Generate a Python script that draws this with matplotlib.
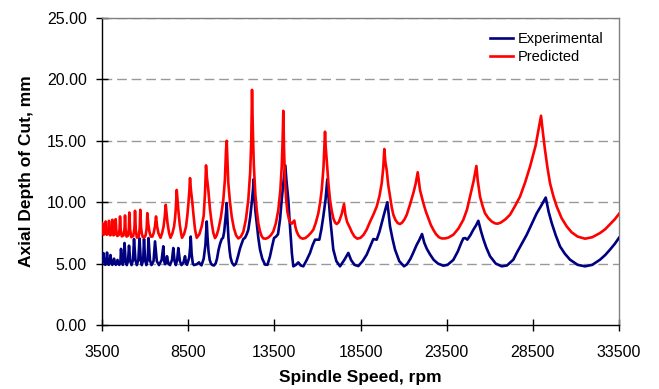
import matplotlib
matplotlib.use("Agg")
import matplotlib.pyplot as plt
from matplotlib.ticker import FormatStrFormatter

plt.rcParams['font.family'] = ['Liberation Sans', 'DejaVu Sans']

# ---- Data ----
pred_rpm = [3500, 3517, 3547, 3586, 3655, 3695, 3715, 3744, 3782, 3849, 3887, 3906,
            3935, 3973, 4040, 4079, 4098, 4128, 4167, 4236, 4275, 4295, 4332, 4383,
            4470, 4520, 4545, 4588, 4647, 4748, 4806, 4835, 4872, 4922, 5010, 5060,
            5084, 5134, 5200, 5316, 5382, 5415, 5461, 5522, 5630, 5691, 5722, 5763,
            5810, 5870, 5950, 6030, 6090, 6129, 6180, 6250, 6330, 6420, 6500, 6570,
            6634, 6700, 6780, 6895, 6990, 7069, 7140, 7196, 7250, 7301, 7390, 7475,
            7580, 7678, 7740, 7782, 7835, 7890, 7939, 8010, 8084, 8142, 8260, 8374,
            8450, 8519, 8570, 8607, 8660, 8740, 8820, 8897, 8995, 9150, 9285, 9400,
            9477, 9535, 9590, 9669, 9760, 9866, 9960, 10057, 10150, 10249, 10400,
            10539, 10630, 10696, 10736, 10790, 10829, 10920, 11026, 11150, 11280, 11409,
            11560, 11700, 11850, 11990, 12100, 12160, 12205, 12250, 12310, 12400, 12477,
            12570, 12669, 12760, 12860, 13000, 13150, 13300, 13441, 13590, 13731, 13850,
            13928, 13980, 14021, 14060, 14110, 14180, 14260, 14350, 14430, 14508, 14600,
            14660, 14720, 14800, 14900, 15020, 15147, 15300, 15450, 15620, 15762, 15900,
            16052, 16160, 16249, 16350, 16441, 16480, 16539, 16640, 16731, 16830, 16922,
            17020, 17119, 17250, 17400, 17543, 17620, 17720, 17891, 18000, 18150, 18315,
            18500, 18680, 18855, 19050, 19250, 19441, 19600, 19731, 19820, 19882, 19940,
            20021, 20110, 20213, 20310, 20405, 20530, 20660, 20793, 20920, 21050, 21182,
            21370, 21565, 21700, 21820, 21954, 22145, 22290, 22435, 22580, 22725, 22880,
            23050, 23213, 23400, 23600, 23886, 24180, 24466, 24680, 24855, 25060, 25224,
            25300, 25435, 25580, 25725, 25920, 26114, 26300, 26462, 26650, 26900, 27176,
            27470, 27757, 28050, 28337, 28660, 28976, 29090, 29207, 29350, 29497, 29690,
            29886, 30170, 30466, 30750, 31100, 31528, 31950, 32399, 32700, 32979, 33250,
            33500]
pred_depth = [7.9, 8.3, 7.65, 7.35, 7.42, 7.8, 8.43, 7.7, 7.35, 7.42, 7.8, 8.49,
              7.65, 7.3, 7.38, 7.8, 8.57, 7.7, 7.3, 7.38, 7.85, 8.62, 7.65, 7.25,
              7.33, 7.85, 8.84, 7.7, 7.22, 7.3, 7.85, 8.92, 7.7, 7.2, 7.28, 7.9,
              9.16, 7.75, 7.15, 7.25, 7.9, 9.3, 7.75, 7.12, 7.22, 7.95, 9.38, 8.0,
              7.45, 7.15, 7.12, 7.3, 7.85, 9.11, 8.3, 7.6, 7.2, 7.2, 7.5, 8.0,
              8.84, 8.0, 7.45, 7.1, 7.5, 8.0, 8.8, 9.79, 9.0, 8.3, 7.5, 7.1,
              7.45, 8.0, 8.7, 9.5, 11.0, 10.0, 9.2, 8.2, 7.5, 7.1, 7.4, 8.0,
              8.9, 10.0, 11.0, 11.96, 11.0, 10.0, 8.8, 7.8, 7.1, 7.4, 8.03, 8.9,
              10.74, 13.0, 12.0, 11.0, 9.5, 8.3, 7.5, 7.08, 7.3, 7.76, 8.8,
              10.2, 11.8, 14.25, 15.0, 13.0, 11.55, 10.1, 8.84, 7.9, 7.3, 7.05,
              7.2, 7.6, 8.6, 10.2, 12.5, 15.0, 19.15, 16.0, 13.0, 10.6, 9.38,
              8.3, 7.62, 7.25, 7.05, 7.03, 7.12, 7.32, 7.62, 8.3, 9.38, 11.0,
              12.9, 15.0, 17.44, 14.5, 12.0, 10.3, 9.2, 8.6, 8.35, 8.25, 8.4,
              8.51, 8.0, 7.6, 7.3, 7.1, 7.03, 7.08, 7.25, 7.5, 7.76, 8.3,
              9.1, 10.0, 11.0, 12.8, 15.74, 14.5, 13.44, 11.5, 10.2, 9.3, 8.7,
              8.35, 8.22, 8.4, 9.0, 9.85, 9.0, 8.4, 7.9, 7.55, 7.2, 7.03,
              7.1, 7.35, 7.76, 8.4, 9.0, 9.65, 10.5, 11.55, 12.8, 14.33, 13.3,
              12.6, 11.4, 10.46, 9.6, 8.98, 8.55, 8.3, 8.22, 8.35, 8.6, 8.98,
              9.8, 10.74, 11.5, 12.44, 10.98, 9.93, 9.25, 8.7, 8.15, 7.76, 7.4,
              7.15, 7.05, 7.05, 7.12, 7.35, 7.85, 8.57, 9.4, 10.46, 11.7, 12.95,
              11.8, 10.46, 9.7, 9.1, 8.7, 8.43, 8.28, 8.25, 8.35, 8.6, 8.98,
              9.7, 10.46, 11.6, 12.9, 14.6, 17.04, 15.6, 14.25, 12.8, 11.55, 10.5,
              9.65, 8.7, 8.03, 7.55, 7.2, 7.03, 7.15, 7.49, 7.8, 8.2, 8.6,
              9.05]

exp_rpm = [3500, 3587, 3630, 3691, 3750, 3790, 3840, 3895, 3950, 3993, 4040, 4098,
           4160, 4196, 4250, 4301, 4360, 4399, 4450, 4504, 4570, 4603, 4650, 4707,
           4770, 4806, 4870, 4939, 5010, 5067, 5140, 5212, 5300, 5357, 5440, 5519,
           5610, 5676, 5750, 5810, 5890, 5937, 6000, 6071, 6150, 6198, 6280, 6372,
           6490, 6576, 6680, 6808, 6960, 7057, 7110, 7156, 7220, 7272, 7350, 7446,
           7560, 7637, 7710, 7782, 7860, 7928, 8020, 8113, 8230, 8317, 8380, 8433,
           8560, 8620, 8647, 8700, 8770, 8839, 9000, 9129, 9200, 9274, 9400, 9500,
           9576, 9620, 9680, 9750, 9825, 9910, 9999, 10090, 10173, 10260, 10348,
           10446, 10522, 10590, 10638, 10700, 10736, 10770, 10841, 10900, 10957, 11050,
           11160, 11270, 11392, 11500, 11595, 11700, 11798, 11900, 11990, 12100, 12187,
           12260, 12303, 12340, 12400, 12477, 12570, 12669, 12800, 12959, 13100, 13249,
           13370, 13481, 13600, 13713, 13830, 13928, 14040, 14137, 14200, 14311, 14380,
           14450, 14520, 14601, 14750, 14891, 15030, 15181, 15380, 15570, 15720, 15860,
           16000, 16110, 16230, 16342, 16470, 16574, 16650, 16731, 16830, 16922, 17100,
           17311, 17560, 17793, 17950, 18150, 18373, 18620, 18860, 19060, 19243, 19441,
           19600, 19731, 19900, 20056, 20213, 20360, 20503, 20750, 21025, 21200, 21400,
           21565, 21750, 21920, 22070, 22200, 22350, 22534, 22750, 23000, 23306, 23550,
           23886, 24150, 24350, 24466, 24580, 24698, 24870, 25047, 25200, 25337, 25480,
           25627, 25800, 26016, 26350, 26694, 27000, 27367, 27565, 27850, 28145, 28430,
           28726, 29000, 29248, 29420, 29596, 29830, 30078, 30360, 30658, 31100, 31528,
           31950, 32399, 32700, 32979, 33250, 33500]
exp_depth = [5.2, 5.85, 5.1, 4.9, 5.1, 5.9, 5.1, 4.9, 5.1, 5.7, 5.05, 4.9,
             5.05, 5.4, 5.0, 4.9, 5.05, 5.3, 5.0, 4.9, 5.2, 6.2, 5.2, 4.9,
             5.3, 6.68, 5.2, 4.88, 5.2, 6.46, 5.2, 4.88, 5.3, 7.0, 5.3, 4.88,
             5.3, 7.05, 5.3, 4.88, 5.3, 7.0, 5.3, 4.88, 5.3, 7.08, 5.3, 4.88,
             5.2, 6.81, 5.2, 4.88, 5.3, 6.41, 5.2, 4.95, 5.1, 5.6, 5.0, 4.88,
             5.3, 6.27, 5.2, 4.88, 5.3, 6.27, 5.2, 4.88, 5.1, 5.6, 5.0, 4.9,
             5.5, 6.4, 7.2, 5.8, 5.0, 4.88, 4.95, 5.1, 4.95, 4.86, 5.4, 6.5,
             8.43, 7.2, 6.0, 5.3, 5.0, 4.88, 4.85, 5.0, 5.4, 6.1, 6.6,
             7.0, 7.1, 7.6, 8.3, 9.2, 9.93, 8.8, 7.0, 6.1, 5.5, 5.05,
             4.85, 5.0, 5.6, 6.2, 6.6, 7.0, 7.1, 7.4, 7.76, 8.8, 9.93,
             11.0, 11.88, 10.5, 9.3, 8.3, 7.1, 6.14, 5.4, 4.92, 4.9, 5.6,
             6.4, 7.08, 7.2, 7.4, 8.6, 10.2, 11.8, 13.0, 11.8, 10.2, 8.6,
             7.2, 5.8, 4.78, 4.9, 5.1, 4.85, 4.78, 5.3, 5.87, 6.5, 6.95,
             6.95, 6.95, 7.8, 8.84, 10.2, 11.87, 10.3, 8.84, 7.4, 6.14, 5.2,
             4.78, 5.3, 5.87, 5.3, 4.9, 4.8, 5.2, 5.73, 6.4, 7.0, 6.95,
             7.6, 8.3, 9.2, 10.0, 8.03, 7.0, 6.14, 5.2, 4.78, 4.95, 5.4,
             5.9, 6.5, 6.95, 7.41, 6.7, 6.2, 5.75, 5.3, 5.0, 4.83, 4.9,
             5.3, 6.0, 6.7, 7.05, 7.08, 6.95, 7.3, 7.76, 8.1, 8.49, 7.7,
             7.0, 6.3, 5.6, 5.0, 4.78, 4.85, 5.32, 5.87, 6.6, 7.35, 8.2,
             9.1, 9.75, 10.38, 9.2, 8.3, 7.3, 6.4, 5.8, 5.32, 4.9, 4.78,
             4.9, 5.32, 5.7, 6.14, 6.6, 7.1]

series_names = ["Experimental", "Predicted"]
x_ticks = [3500, 8500, 13500, 18500, 23500, 28500, 33500]
y_ticks = [0, 5, 10, 15, 20, 25]

# ---- Figure ----
fig = plt.figure(figsize=(6.59, 3.89), dpi=100)
ax = fig.add_axes([0.1548, 0.1645, 0.7845, 0.7892])

for y in y_ticks[1:]:
    ax.axhline(y, color='#999999', lw=1.0, linestyle=(0, (7, 3.5)), zorder=1)

ax.plot(exp_rpm, exp_depth, color='#000080', lw=1.9, label=series_names[0], zorder=3,
        solid_joinstyle='round')
ax.plot(pred_rpm, pred_depth, color='#FF0000', lw=1.9, label=series_names[1], zorder=3,
        solid_joinstyle='round')

ax.set_xlim(3500, 33500)
ax.set_ylim(0, 25)
ax.set_xticks(x_ticks)
ax.set_yticks(y_ticks)
ax.yaxis.set_major_formatter(FormatStrFormatter('%.2f'))
ax.tick_params(axis='both', direction='inout', length=9, width=1, labelsize=11.5,
               colors='black')
ax.tick_params(axis='x', pad=10)
ax.tick_params(axis='y', pad=6.5)

for s in ['left', 'bottom']:
    ax.spines[s].set_color('black')
    ax.spines[s].set_linewidth(1.0)
for s in ['top', 'right']:
    ax.spines[s].set_color('#808080')
    ax.spines[s].set_linewidth(1.0)

ax.set_xlabel('Spindle Speed, rpm', fontsize=12.5, fontweight='bold', labelpad=7)
ax.set_ylabel('Axial Depth of Cut, mm', fontsize=12.5, fontweight='bold', labelpad=9)

leg = ax.legend(loc='upper left', bbox_to_anchor=(0.75, 0.955), frameon=False,
                fontsize=10.5, handlelength=1.6, handletextpad=0.3, borderpad=0,
                borderaxespad=0, labelspacing=0.3)

fig.savefig('out.png', dpi=100)
